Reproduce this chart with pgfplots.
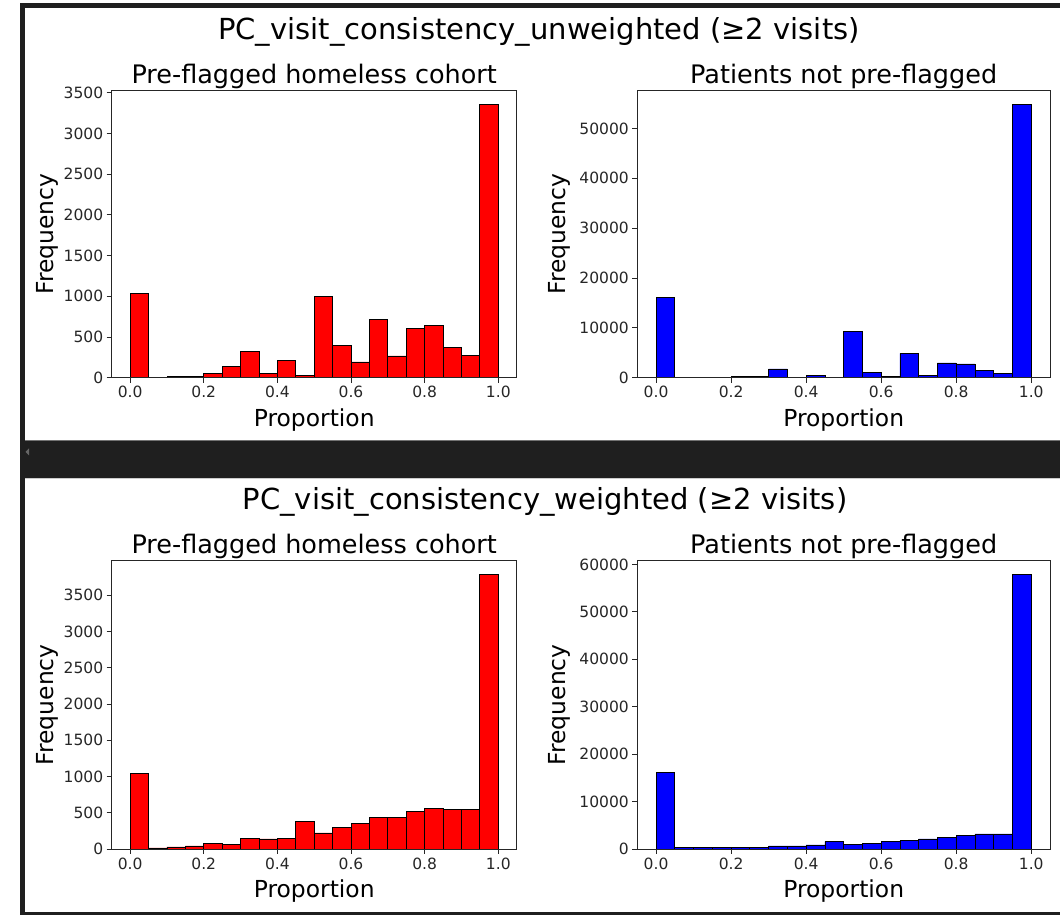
\documentclass[border=0pt]{standalone}
\usepackage{fontspec}
\setmainfont{DejaVu Sans}
\usepackage{pgfplots}
\pgfplotsset{compat=1.18}

\definecolor{panelbar}{HTML}{1F1F1F}
\definecolor{tickgray}{HTML}{262626}

% bin counts, 20 bins of width 0.05 (left edges; the last row closes the interval)
\pgfplotstableread{
x     y
0.00  1040
0.05  0
0.10  10
0.15  10
0.20  49
0.25  140
0.30  321
0.35  49
0.40  214
0.45  29
0.50  1000
0.55  395
0.60  193
0.65  720
0.70  267
0.75  609
0.80  642
0.85  374
0.90  276
0.95  3357
1.00  3357
}\homelessUnw

\pgfplotstableread{
x     y
0.00  16100
0.05  0
0.10  0
0.15  0
0.20  200
0.25  330
0.30  1750
0.35  0
0.40  470
0.45  0
0.50  9260
0.55  1000
0.60  200
0.65  4900
0.70  470
0.75  2950
0.80  2750
0.85  1400
0.90  800
0.95  54830
1.00  54830
}\otherUnw

\pgfplotstableread{
x     y
0.00  1045
0.05  14
0.10  28
0.15  42
0.20  79
0.25  65
0.30  148
0.35  139
0.40  148
0.45  384
0.50  222
0.55  296
0.60  356
0.65  439
0.70  439
0.75  513
0.80  559
0.85  541
0.90  550
0.95  3787
1.00  3787
}\homelessW

\pgfplotstableread{
x     y
0.00  16150
0.05  250
0.10  250
0.15  250
0.20  420
0.25  420
0.30  640
0.35  640
0.40  850
0.45  1550
0.50  920
0.55  1130
0.60  1630
0.65  1770
0.70  2120
0.75  2470
0.80  2830
0.85  3180
0.90  3180
0.95  57880
1.00  57880
}\otherW

\pgfplotsset{
  histpanel/.style={
    scale only axis,
    anchor=south west,
    xmin=-0.05, xmax=1.05, ymin=0,
    xtick={0,0.2,0.4,0.6,0.8,1},
    tick pos=left,
    tick align=outside,
    major tick length=5pt,
    tick style={tickgray, line width=0.8pt},
    axis line style={tickgray, line width=0.8pt},
    axis on top,
    /pgf/number format/assume math mode=true,
    ticklabel style={font=\fontsize{15.5}{18}\selectfont, text=tickgray},
    xticklabel style={/pgf/number format/.cd, fixed, fixed zerofill, precision=1},
    yticklabel style={/pgf/number format/.cd, fixed, 1000 sep={}},
    scaled x ticks=false, scaled y ticks=false,
  },
  histbars/.style={ybar interval, fill=#1, draw=black, line width=0.8pt},
}

\newcommand{\supfont}{\fontsize{29}{34}\selectfont}
\newcommand{\subfont}{\fontsize{25.5}{30}\selectfont}
\newcommand{\labfont}{\fontsize{23.4}{28}\selectfont}

\begin{document}
\begin{tikzpicture}
\path[use as bounding box, fill=white] (0pt,0pt) rectangle (1060pt,915pt);

% notebook frame around the two output cells
\fill[panelbar] (20pt,0pt) rectangle (25pt,912pt);
\fill[panelbar] (20pt,907pt) rectangle (1060pt,912pt);
\fill[panelbar] (20pt,437pt) rectangle (1060pt,475pt);
\draw[black!55, line width=0.8pt] (25pt,475pt) -- (1060pt,475pt);
\draw[black!20, line width=0.8pt] (25pt,437pt) -- (1060pt,437pt);
\fill[panelbar] (20pt,0pt) rectangle (1060pt,3.3pt);
\fill[black!60] (25.5pt,463pt) -- (29pt,466.5pt) -- (29pt,459.5pt) -- cycle;

% ---------- unweighted ----------
\node[anchor=base, font=\supfont] at (539pt,875.5pt) {PC\_visit\_consistency\_unweighted (≥2 visits)};

\begin{axis}[histpanel, at={(111.7pt,537.3pt)}, width=405pt, height=287pt,
  ymax=3524.85, ytick={0,500,1000,1500,2000,2500,3000,3500}]
  \addplot[histbars=red] table[x=x, y=y] {\homelessUnw};
\end{axis}
\node[anchor=base, font=\subfont] at (314.2pt,831.7pt) {Pre-flagged homeless cohort};
\node[anchor=base, font=\labfont] at (314.2pt,488.3pt) {Proportion};
\node[anchor=base, rotate=90, font=\labfont] at (53pt,680.8pt) {Frequency};

\begin{axis}[histpanel, at={(637.3pt,537.3pt)}, width=412.7pt, height=287pt,
  ymax=57571.5, ytick={0,10000,20000,30000,40000,50000}]
  \addplot[histbars=blue] table[x=x, y=y] {\otherUnw};
\end{axis}
\node[anchor=base, font=\subfont] at (843.7pt,831.7pt) {Patients not pre-flagged};
\node[anchor=base, font=\labfont] at (843.7pt,488.3pt) {Proportion};
\node[anchor=base, rotate=90, font=\labfont] at (565.3pt,680.8pt) {Frequency};

% ---------- weighted ----------
\node[anchor=base, font=\supfont] at (545pt,405pt) {PC\_visit\_consistency\_weighted (≥2 visits)};

\begin{axis}[histpanel, at={(111.7pt,66pt)}, width=405pt, height=288.3pt,
  ymax=3976.35, ytick={0,500,1000,1500,2000,2500,3000,3500}]
  \addplot[histbars=red] table[x=x, y=y] {\homelessW};
\end{axis}
\node[anchor=base, font=\subfont] at (314.2pt,361.7pt) {Pre-flagged homeless cohort};
\node[anchor=base, font=\labfont] at (314.2pt,17.3pt) {Proportion};
\node[anchor=base, rotate=90, font=\labfont] at (53pt,210.1pt) {Frequency};

\begin{axis}[histpanel, at={(637.3pt,66pt)}, width=412.7pt, height=288.3pt,
  ymax=60774, ytick={0,10000,20000,30000,40000,50000,60000}]
  \addplot[histbars=blue] table[x=x, y=y] {\otherW};
\end{axis}
\node[anchor=base, font=\subfont] at (843.7pt,361.7pt) {Patients not pre-flagged};
\node[anchor=base, font=\labfont] at (843.7pt,17.3pt) {Proportion};
\node[anchor=base, rotate=90, font=\labfont] at (565.3pt,210.1pt) {Frequency};
\end{tikzpicture}
\end{document}
